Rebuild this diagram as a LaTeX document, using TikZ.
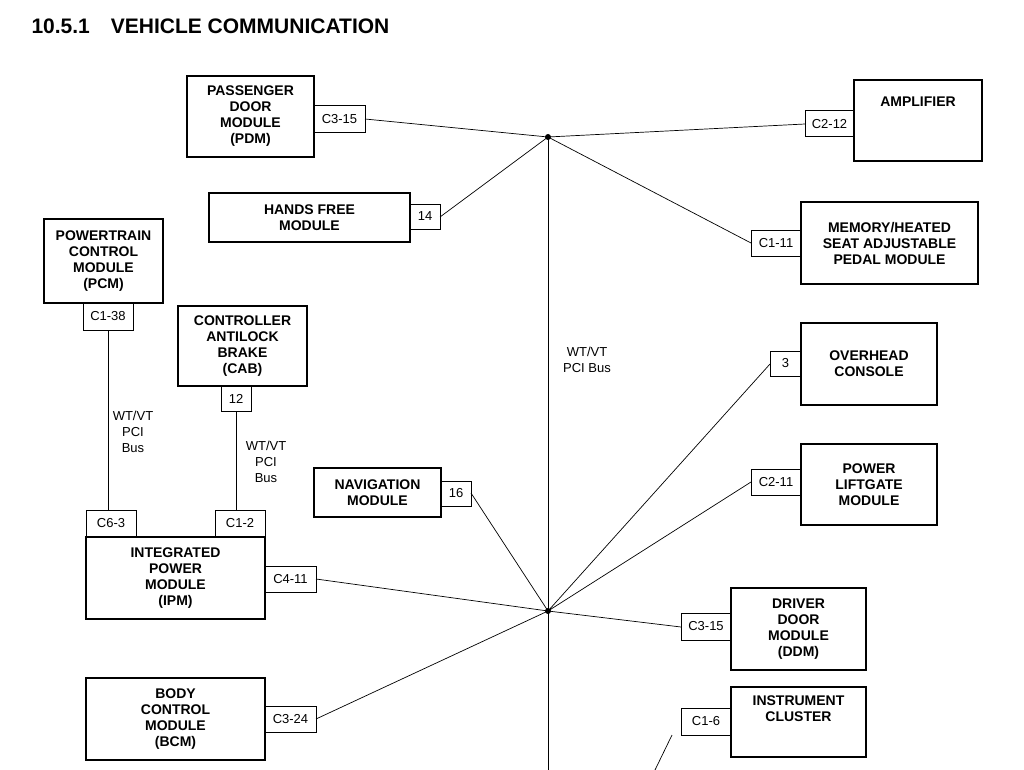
\documentclass[tikz,border=0pt]{standalone}
\usepackage{fontspec}
\setmainfont{Liberation Sans}
\usetikzlibrary{calc}

\tikzset{
  module/.style={draw,line width=1.2pt,align=center,font=\fontsize{14}{16}\selectfont\bfseries},
  pin/.style={draw,line width=1pt,font=\fontsize{13}{15}\selectfont},
  bus/.style={line width=0.7pt}
}
% box from corners (x1,y1) to (x2,y2), in reference pixels
\newcommand{\modbox}[6]{%
  \draw[#1] (#2,#3) rectangle (#4,#5);
  \node[align=center,#1,draw=none] at ({(#2+#4)/2},{(#3+#5)/2}) {#6};}

\begin{document}
\begin{tikzpicture}[x=1pt,y=-1pt]
  \useasboundingbox (0,0) rectangle (1024,770);
  \node[anchor=west,font=\fontsize{21}{23}\selectfont\bfseries] (title) at (28,26) {10.5.1\quad VEHICLE COMMUNICATION};

  \coordinate (hubA) at (548,137);
  \coordinate (hubB) at (548,611);
  \draw[bus] (hubA) -- (548,770);
  \fill (hubA) circle (3pt);
  \fill (hubB) circle (3pt);

  % modules
  \modbox{module}{187}{76}{314}{157}{PASSENGER\\DOOR\\MODULE\\(PDM)}
  \modbox{pin}{314}{106}{365}{133}{C3-15}
  \modbox{module}{854}{80}{982}{161}{AMPLIFIER\\[22pt]}
  \modbox{pin}{805}{111}{854}{137}{C2-12}
  \modbox{module}{209}{193}{410}{242}{HANDS FREE\\MODULE}
  \modbox{pin}{410}{204}{440}{229}{14}
  \modbox{module}{801}{202}{978}{284}{MEMORY/HEATED\\SEAT ADJUSTABLE\\PEDAL MODULE}
  \modbox{pin}{751}{230}{801}{256}{C1-11}
  \modbox{module}{44}{219}{163}{303}{POWERTRAIN\\CONTROL\\MODULE\\(PCM)}
  \modbox{pin}{83}{303}{133}{330}{C1-38}
  \modbox{module}{178}{306}{307}{386}{CONTROLLER\\ANTILOCK\\BRAKE\\(CAB)}
  \modbox{pin}{221}{386}{251}{411}{12}
  \modbox{module}{801}{323}{937}{405}{OVERHEAD\\CONSOLE}
  \modbox{pin}{770}{351}{801}{376}{3}
  \modbox{module}{801}{444}{937}{525}{POWER\\LIFTGATE\\MODULE}
  \modbox{pin}{751}{469}{801}{495}{C2-11}
  \modbox{module}{314}{468}{441}{517}{NAVIGATION\\MODULE}
  \modbox{pin}{441}{481}{471}{506}{16}
  \modbox{module}{86}{537}{265}{619}{INTEGRATED\\POWER\\MODULE\\(IPM)}
  \modbox{pin}{86}{510}{136}{537}{C6-3}
  \modbox{pin}{215}{510}{265}{537}{C1-2}
  \modbox{pin}{265}{566}{316}{592}{C4-11}
  \modbox{module}{731}{588}{866}{670}{DRIVER\\DOOR\\MODULE\\(DDM)}
  \modbox{pin}{681}{613}{731}{640}{C3-15}
  \modbox{module}{86}{678}{265}{760}{BODY\\CONTROL\\MODULE\\(BCM)}
  \modbox{pin}{265}{706}{316}{732}{C3-24}
  \modbox{module}{731}{687}{866}{757}{INSTRUMENT\\CLUSTER\\[10pt]}
  \modbox{pin}{681}{708}{731}{735}{C1-6}

  % bus wires
  \draw[bus] (365,119) -- (hubA) -- (805,124);
  \draw[bus] (440,217) -- (hubA) -- (751,243);
  \draw[bus] (770,364) -- (hubB) -- (751,482);
  \draw[bus] (471,493) -- (hubB) -- (681,627);
  \draw[bus] (316,579) -- (hubB) -- (316,719);
  \draw[bus] (672,735) -- (655,770);
  \draw[bus] (108,330) -- (108,510);
  \draw[bus] (236,411) -- (236,510);

  % labels
  \node[align=center,font=\fontsize{13}{16}\selectfont] (busA) at (587,360) {WT/VT\\PCI Bus};
  \node[align=center,font=\fontsize{13}{16}\selectfont] (busB) at (133,432) {WT/VT\\PCI\\Bus};
  \node[align=center,font=\fontsize{13}{16}\selectfont] (busC) at (266,462) {WT/VT\\PCI\\Bus};
\end{tikzpicture}
\end{document}
